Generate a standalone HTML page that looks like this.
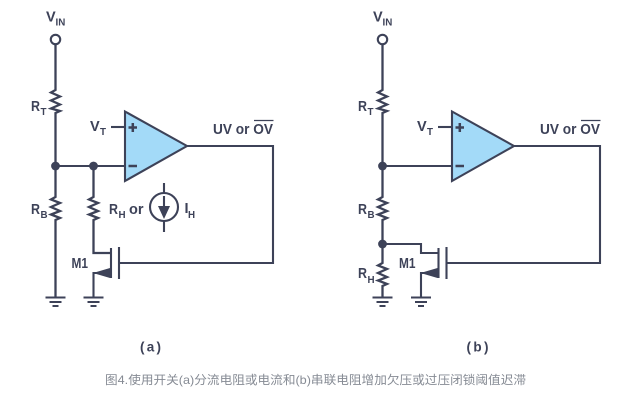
<!DOCTYPE html>
<html><head><meta charset="utf-8"><style>
html,body{margin:0;padding:0;background:#fff}
svg{display:block}
.l{fill:none;stroke:#3d4258;stroke-width:2.1}
.z{stroke-width:2.3;stroke-linejoin:miter}
.p{stroke-width:2.5}
.t{font-family:"Liberation Sans",sans-serif;font-weight:700;font-size:14.5px;fill:#3d4258}
.s{font-family:"Liberation Sans",sans-serif;font-weight:700;font-size:9.8px;fill:#3d4258}
.c{font-size:13.5px}
</style></head><body>
<svg width="619" height="408" viewBox="0 0 619 408" xmlns="http://www.w3.org/2000/svg">
<!-- circuit a -->
<g>
<circle class="l" cx="55.5" cy="39.5" r="4.7"/>
<path class="l z" d="M55.5 44V90L51 92.5L60 96.5L51 100.5L60 104.5L51 108.5L60 111L55.5 113V166"/>
<path class="l z" d="M55.5 166V197L51 199.5L60 203L51 207L60 211L51 214.5L60 218L55.5 220V297"/>
<path class="l" d="M45.5 297.5H65.5M49.5 302H61.5M52.5 306H58.5"/>
<path class="l" d="M55.5 166H125"/>
<circle cx="55.5" cy="166" r="4.4" fill="#3d4258"/>
<circle cx="93.5" cy="166" r="4.4" fill="#3d4258"/>
<path class="l z" d="M93.5 166V197L89 199.5L98 203L89 207L98 211L89 214.5L98 218L93.5 220V253H111"/>
<path class="l" d="M111 248V278M119 247V279M119 263H273V146H187"/>
<path class="l" d="M111 273H93.5V297"/>
<path d="M93 273L110 268V278Z" fill="#3d4258"/>
<path class="l" d="M83.5 297.5H103.5M87.5 302H99.5M90.5 306H96.5"/>
<path d="M125 111.5L187 146L125 181Z" fill="#a3daf8" stroke="#3d4258" stroke-width="2.1"/>
<path class="l" d="M111 127H125"/>
<path class="l p" d="M128.5 127.5H137M132.8 123V132M128.5 166H137"/>
<circle class="l" cx="164" cy="207" r="14"/>
<path class="l" d="M164 183V193M164 221V232M164 196V208"/>
<path d="M158 206H170L164 219Z" fill="#3d4258"/>
<text class="t" x="46" y="21.5">V</text><text class="s" x="55.5" y="25.5">IN</text>
<text class="t" x="31" y="111" textLength="9" lengthAdjust="spacingAndGlyphs">R</text><text class="s" x="40.5" y="115">T</text>
<text class="t" x="90" y="131">V</text><text class="s" x="100" y="135">T</text>
<text class="t" x="31" y="214" textLength="9" lengthAdjust="spacingAndGlyphs">R</text><text class="s" x="40.5" y="218">B</text>
<text class="t" x="109" y="214" textLength="9" lengthAdjust="spacingAndGlyphs">R</text><text class="s" x="118.5" y="218">H</text><text class="t" x="129" y="214">or</text>
<text class="t" x="184.5" y="213">I</text><text class="s" x="188" y="218">H</text>
<text class="t" x="71.5" y="268" textLength="16.5" lengthAdjust="spacingAndGlyphs">M1</text>
<text class="t" x="213" y="134" textLength="60" lengthAdjust="spacingAndGlyphs">UV or OV</text>
<path d="M254 120.5H273.5" stroke="#3d4258" stroke-width="1.3"/>
</g>
<!-- circuit b -->
<g>
<circle class="l" cx="382.5" cy="39.5" r="4.7"/>
<path class="l z" d="M382.5 44V90L378 92.5L387 96.5L378 100.5L387 104.5L378 108.5L387 111L382.5 113V197L378 199.5L387 203L378 207L387 211L378 214.5L387 218L382.5 220V263L378 265.5L387 269L378 273L387 277L378 280.5L387 284L382.5 286V297"/>
<path class="l" d="M372.5 297.5H392.5M376.5 302H388.5M379.5 306H385.5"/>
<path class="l" d="M382.5 166H452"/>
<circle cx="382.5" cy="166" r="4.4" fill="#3d4258"/>
<circle cx="382.5" cy="244" r="4.4" fill="#3d4258"/>
<path class="l" d="M382.5 244H421V253H438.5"/>
<path class="l" d="M438.5 248V278M446.5 247V279M446.5 263H600V146H514"/>
<path class="l" d="M438.5 273H421V297"/>
<path d="M420.5 273L437.5 268V278Z" fill="#3d4258"/>
<path class="l" d="M411 297.5H431M415 302H427M418 306H424"/>
<path d="M452 111.5L514 146L452 181Z" fill="#a3daf8" stroke="#3d4258" stroke-width="2.1"/>
<path class="l" d="M438 127H452"/>
<path class="l p" d="M455.5 127.5H464M459.8 123V132M455.5 166H464"/>
<text class="t" x="373" y="21.5">V</text><text class="s" x="382.5" y="25.5">IN</text>
<text class="t" x="358" y="111" textLength="9" lengthAdjust="spacingAndGlyphs">R</text><text class="s" x="367.5" y="115">T</text>
<text class="t" x="417" y="131">V</text><text class="s" x="427" y="135">T</text>
<text class="t" x="358" y="214" textLength="9" lengthAdjust="spacingAndGlyphs">R</text><text class="s" x="367.5" y="218">B</text>
<text class="t" x="358" y="278" textLength="9" lengthAdjust="spacingAndGlyphs">R</text><text class="s" x="367.5" y="283">H</text>
<text class="t" x="399" y="268" textLength="16.5" lengthAdjust="spacingAndGlyphs">M1</text>
<text class="t" x="540" y="134" textLength="60" lengthAdjust="spacingAndGlyphs">UV or OV</text>
<path d="M581 120.5H600.5" stroke="#3d4258" stroke-width="1.3"/>
</g>
<text class="t c" x="140" y="351.5" textLength="21">(a)</text>
<text class="t c" x="466.5" y="351.5" textLength="22">(b)</text>
<text x="105" y="384" font-size="12" fill="#868b94" textLength="421" lengthAdjust="spacingAndGlyphs" font-family="'Liberation Sans','Noto Sans CJK SC',sans-serif">图4.使用开关(a)分流电阻或电流和(b)串联电阻增加欠压或过压闭锁阈值迟滞</text>
</svg>
</body></html>
